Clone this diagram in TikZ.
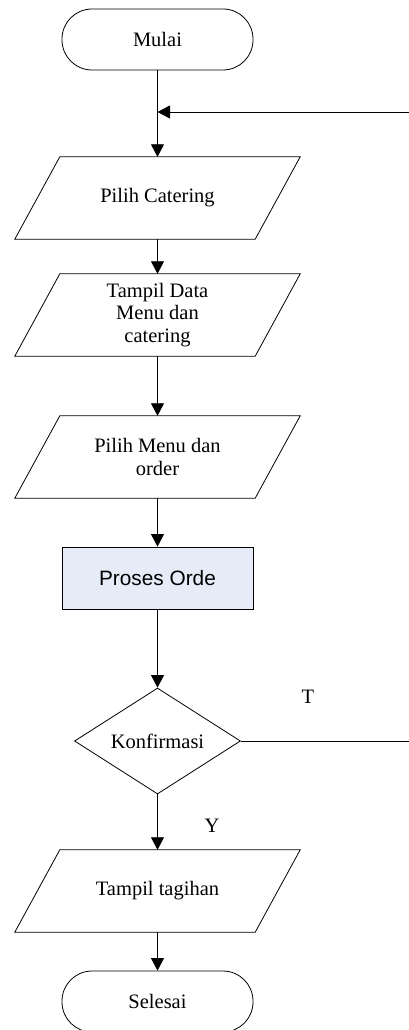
\documentclass[tikz,border=0pt]{standalone}
\usepackage{fontspec}
\setmainfont{Liberation Serif}
\setsansfont{Liberation Sans}
\usetikzlibrary{shapes.geometric,arrows.meta}
\definecolor{procfill}{HTML}{E6ECF7}
\tikzset{
  every node/.style={font=\fontsize{20.5}{22.5}\selectfont},
  line/.style={line width=0.8pt, draw=black},
  arr/.style={line, -{Triangle[length=12.5pt,width=13pt]}},
  term/.style={line, rectangle, rounded corners=30pt, minimum width=191pt, minimum height=61pt, inner sep=0pt},
  io/.style={minimum width=240pt, minimum height=82pt, inner sep=0pt, align=center},
  proc/.style={line, fill=procfill, rectangle, minimum width=191pt, minimum height=62pt, inner sep=0pt, font=\sffamily\fontsize{20.8}{23}\selectfont},
  decision/.style={line, diamond, aspect=1.566, minimum width=166pt, minimum height=106pt, inner sep=0pt},
  lbl/.style={inner sep=0pt}
}
\begin{document}
\begin{tikzpicture}[x=1pt,y=-1pt]
\useasboundingbox (0,0) rectangle (409,1030);
\node[term] (start) at (157.5,39.5) {Mulai};
\coordinate (j) at (157.5,112);
\node[io] (p1) at (157.5,198) {Pilih Catering};
\node[io] (p2) at (157.5,315) {Tampil Data\\Menu dan\\catering};
\node[io] (p3) at (157.5,457) {Pilih Menu dan\\order};
\node[proc] (pr) at (157.5,578) {Proses Orde};
\node[decision] (k) at (157.5,741) {Konfirmasi};
\node[io] (p4) at (157.5,891) {Tampil tagihan};
\node[term] (end) at (157.5,1001.5) {Selesai};
\foreach \n in {p1,p2,p3,p4}
  \draw[line] ([xshift=22.5pt]\n.north west) -- ([xshift=22.5pt]\n.north east)
    -- ([xshift=-22.5pt]\n.south east) -- ([xshift=-22.5pt]\n.south west) -- cycle;
\node[lbl] (t) at (308,697) {T};
\node[lbl] (y) at (212,826) {Y};
\coordinate (rT) at (409,741);
\coordinate (rB) at (409,112);
\draw[line] (start.south) -- (j);
\draw[arr] (j) -- (p1.north);
\draw[arr] (p1.south) -- (p2.north);
\draw[arr] (p2.south) -- (p3.north);
\draw[arr] (p3.south) -- (pr.north);
\draw[arr] (pr.south) -- (k.north);
\draw[arr] (k.south) -- (p4.north);
\draw[arr] (p4.south) -- (end.north);
\draw[line] (k.east) -- (rT);
\draw[arr] (rB) -- (j);
\end{tikzpicture}
\end{document}
